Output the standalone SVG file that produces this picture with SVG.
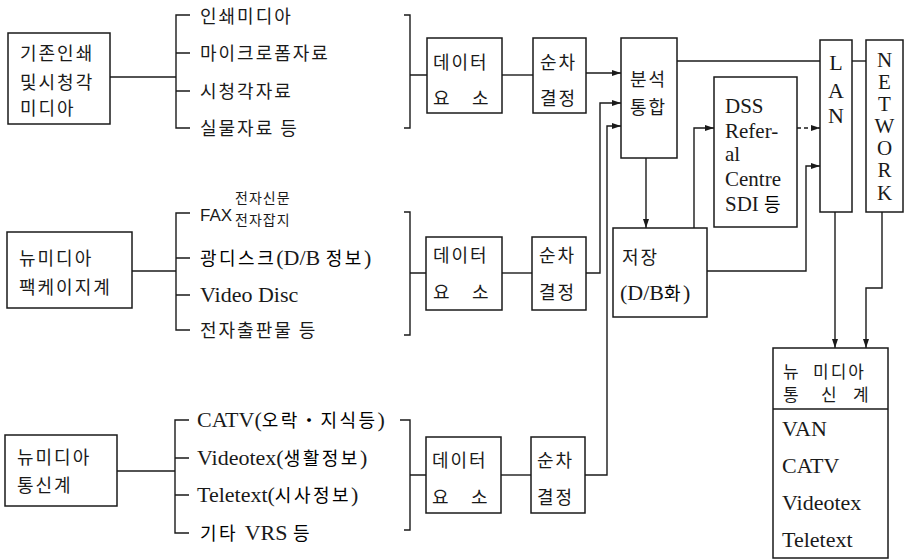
<svg xmlns="http://www.w3.org/2000/svg" width="908" height="560" viewBox="0 0 908 560">
<style>
.box{fill:#fff;stroke:#1a1a1a;stroke-width:1.5}
.ln{fill:none;stroke:#1a1a1a;stroke-width:1.4}
.ko{font-family:"Noto Sans CJK KR","Noto Sans",sans-serif;font-size:18px;letter-spacing:2px;fill:#1a1a1a}
.se{font-family:"Liberation Serif","Noto Sans CJK KR",serif;font-size:22px;fill:#1a1a1a}
.sv{font-family:"Liberation Serif",serif;font-size:21px;fill:#1a1a1a}
.sa{font-family:"Liberation Sans",sans-serif;font-size:17px;fill:#1a1a1a}
.sm{font-family:"Noto Sans CJK KR",sans-serif;font-size:14px;letter-spacing:1px;fill:#1a1a1a}
.kt{font-family:"Noto Sans CJK KR",sans-serif;font-size:18px;letter-spacing:2.5px}
.kn{font-family:"Noto Sans CJK KR",sans-serif;font-size:17px;fill:#1a1a1a}
</style>
<defs>
<marker id="ah" markerWidth="10" markerHeight="8" refX="9" refY="4" orient="auto" markerUnits="userSpaceOnUse">
<path d="M0,1 L9,4 L0,7 Z" fill="#1a1a1a"/>
</marker>
</defs>
<rect width="908" height="560" fill="#fff"/>

<g id="connectors">
<path class="ln" d="M110,77 H176"/>
<path class="ln" d="M190,15 H176 V128 H190 M176,53 H190 M176,91 H190"/>
<path class="ln" d="M404,15 H410 V128 H404 M410,75 H427"/>
<path class="ln" d="M502,75 H533"/>
<path class="ln" d="M586,73 H621" marker-end="url(#ah)"/>
<path class="ln" d="M132,271 H176"/>
<path class="ln" d="M190,213 H176 V330 H190 M176,258 H190 M176,295 H190"/>
<path class="ln" d="M404,212 H410 V335 H404 M410,273 H426"/>
<path class="ln" d="M502,273 H532"/>
<path class="ln" d="M586,273 H600 V103 H621" marker-end="url(#ah)"/>
<path class="ln" d="M117,471 H175"/>
<path class="ln" d="M189,420 H175 V533 H189 M175,458 H189 M175,495 H189"/>
<path class="ln" d="M400,420 H410 V530 H404 M410,475 H426"/>
<path class="ln" d="M501,475 H531"/>
<path class="ln" d="M585,475 H607 V126 H621" marker-end="url(#ah)"/>
<path class="ln" d="M646,158 V228" marker-end="url(#ah)"/>
<path class="ln" d="M677,61 H820"/>
<path class="ln" d="M852,61 H866"/>
<path class="ln" d="M694,228 V128 H714" marker-end="url(#ah)"/>
<path class="ln" d="M797,128 H820" stroke-dasharray="4 3" marker-end="url(#ah)"/>
<path class="ln" d="M707,271 H806 V166 H820" marker-end="url(#ah)"/>
<path class="ln" d="M835,212 V348" marker-end="url(#ah)"/>
<path class="ln" d="M882,212 V288 H866 V348" marker-end="url(#ah)"/>
</g>

<g id="src1">
<rect class="box" x="8" y="33" width="102" height="91"/>
<text class="ko" x="20" y="60">기존인쇄</text>
<text class="ko" x="20" y="89">및시청각</text>
<text class="ko" x="20" y="115">미디아</text>
</g>
<g id="items1">
<text class="ko" x="200" y="23">인쇄미디아</text>
<text class="ko" x="200" y="60">마이크로폼자료</text>
<text class="ko" x="200" y="98">시청각자료</text>
<text class="ko" x="200" y="135">실물자료 등</text>
</g>
<g id="data1">
<rect class="box" x="427" y="38" width="75" height="75"/>
<text class="ko" x="433" y="69">데이터</text>
<text class="ko" x="433" y="105">요</text>
<text class="ko" x="472" y="105">소</text>
</g>
<g id="order1">
<rect class="box" x="533" y="38" width="53" height="75"/>
<text class="ko" x="540" y="69">순차</text>
<text class="ko" x="540" y="105">결정</text>
</g>

<g id="src2">
<rect class="box" x="7" y="232" width="125" height="76"/>
<text class="ko" x="19" y="265">뉴미디아</text>
<text class="ko" x="19" y="294">팩케이지계</text>
</g>
<g id="items2">
<text class="sa" x="200" y="221">FAX</text>
<text class="sm" x="235" y="203">전자신문</text>
<text class="sm" x="235" y="225">전자잡지</text>
<text x="200" y="265"><tspan class="kt">광디스크</tspan><tspan class="se">(D/B </tspan><tspan class="kt">정보</tspan><tspan class="se">)</tspan></text>
<text class="se" x="200" y="302">Video Disc</text>
<text class="ko" x="200" y="337">전자출판물 등</text>
</g>
<g id="data2">
<rect class="box" x="426" y="237" width="76" height="73"/>
<text class="ko" x="433" y="262">데이터</text>
<text class="ko" x="433" y="299">요</text>
<text class="ko" x="472" y="299">소</text>
</g>
<g id="order2">
<rect class="box" x="532" y="237" width="54" height="73"/>
<text class="ko" x="539" y="262">순차</text>
<text class="ko" x="539" y="299">결정</text>
</g>

<g id="src3">
<rect class="box" x="5" y="435" width="112" height="71"/>
<text class="ko" x="17" y="464">뉴미디아</text>
<text class="ko" x="17" y="492">통신계</text>
</g>
<g id="items3">
<text x="197" y="427"><tspan class="se">CATV(</tspan><tspan class="kt">오락・지식등</tspan><tspan class="se">)</tspan></text>
<text x="197" y="465"><tspan class="se">Videotex(</tspan><tspan class="kt">생활정보</tspan><tspan class="se">)</tspan></text>
<text x="197" y="502"><tspan class="se">Teletext(</tspan><tspan class="kt">시사정보</tspan><tspan class="se">)</tspan></text>
<text x="200" y="540"><tspan class="kt">기타 </tspan><tspan class="se">VRS </tspan><tspan class="kt">등</tspan></text>
</g>
<g id="data3">
<rect class="box" x="426" y="437" width="75" height="76"/>
<text class="ko" x="432" y="467">데이터</text>
<text class="ko" x="432" y="504">요</text>
<text class="ko" x="471" y="504">소</text>
</g>
<g id="order3">
<rect class="box" x="531" y="437" width="54" height="76"/>
<text class="ko" x="537" y="467">순차</text>
<text class="ko" x="537" y="504">결정</text>
</g>

<g id="analysis">
<rect class="box" x="621" y="38" width="56" height="120"/>
<text class="ko" x="630" y="86">분석</text>
<text class="ko" x="630" y="114">통합</text>
</g>
<g id="storage">
<rect class="box" x="613" y="228" width="94" height="89"/>
<text class="ko" x="622" y="264">저장</text>
<text x="620" y="300"><tspan class="se">(D/B</tspan><tspan class="kt">화</tspan><tspan class="se">)</tspan></text>
</g>
<g id="dss">
<rect class="box" x="714" y="77" width="83" height="150"/>
<text class="sv" x="725" y="113">DSS</text>
<text class="sv" x="725" y="138">Refer-</text>
<text class="sv" x="725" y="161">al</text>
<text class="sv" x="725" y="186">Centre</text>
<text x="725" y="211"><tspan class="sv">SDI </tspan><tspan class="kt">등</tspan></text>
</g>
<g id="lan">
<rect class="box" x="820" y="40" width="32" height="172"/>
<text class="se" x="836" y="70" text-anchor="middle">L</text>
<text class="se" x="836" y="98" text-anchor="middle">A</text>
<text class="se" x="836" y="123" text-anchor="middle">N</text>
</g>
<g id="network">
<rect class="box" x="866" y="40" width="37" height="172"/>
<text class="sv" x="884.5" y="67" text-anchor="middle">N</text>
<text class="sv" x="884.5" y="89" text-anchor="middle">E</text>
<text class="sv" x="884.5" y="111" text-anchor="middle">T</text>
<text class="sv" x="884.5" y="133" text-anchor="middle">W</text>
<text class="sv" x="884.5" y="155" text-anchor="middle">O</text>
<text class="sv" x="884.5" y="177" text-anchor="middle">R</text>
<text class="sv" x="884.5" y="200" text-anchor="middle">K</text>
</g>
<g id="newmedia">
<rect class="box" x="773" y="348" width="115" height="210"/>
<path class="ln" d="M773,409 H888"/>
<text class="kn" x="783" y="378">뉴</text>
<text class="kn" x="813" y="378" letter-spacing="2">미디아</text>
<text class="kn" x="783" y="401">통</text>
<text class="kn" x="821" y="401">신</text>
<text class="kn" x="853" y="401">계</text>
<text class="se" x="782" y="436">VAN</text>
<text class="se" x="782" y="473">CATV</text>
<text class="se" x="782" y="510">Videotex</text>
<text class="se" x="782" y="547">Teletext</text>
</g>
</svg>
